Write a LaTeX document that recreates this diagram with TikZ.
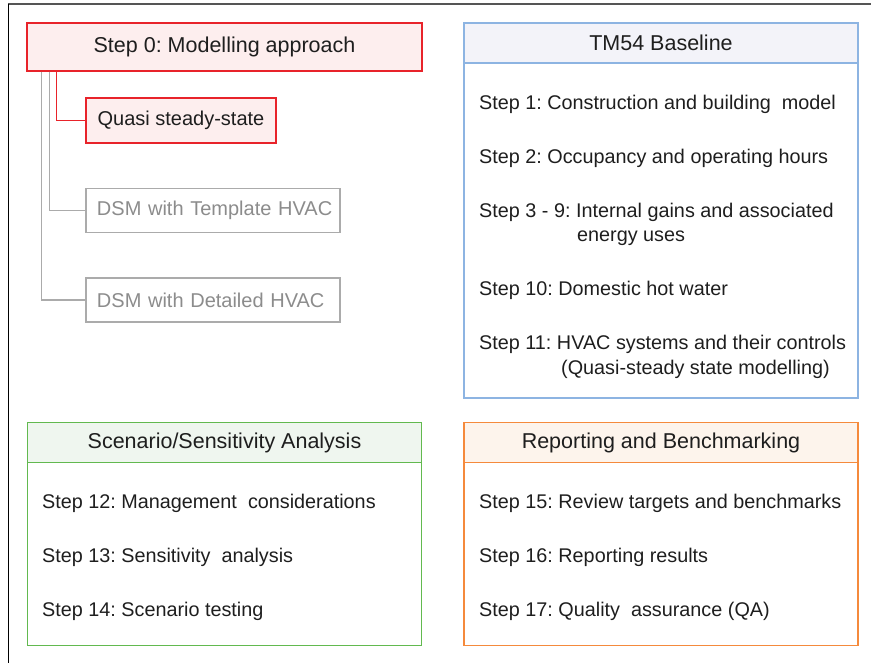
\documentclass[tikz,border=0pt]{standalone}
\usepackage{fontspec}
\setmainfont{Liberation Sans}
\definecolor{stepred}{HTML}{E8232A}
\definecolor{pinkfill}{HTML}{FDEEEE}
\definecolor{greyline}{HTML}{ABABAB}
\definecolor{greytext}{HTML}{8C8C8C}
\definecolor{blueline}{HTML}{8DB4E2}
\definecolor{bluefill}{HTML}{F3F3F9}
\definecolor{greenline}{HTML}{62B94F}
\definecolor{greenfill}{HTML}{EFF6EF}
\definecolor{orangeline}{HTML}{F58A3C}
\definecolor{orangefill}{HTML}{FDF4EC}
\definecolor{framegrey}{HTML}{555555}
\definecolor{inktext}{HTML}{1E1E1E}
\frenchspacing

\begin{document}
\begin{tikzpicture}[x=1pt,y=-1pt,
  every node/.style={font=\fontsize{19.8}{24}\selectfont, inner sep=0pt, text=inktext},
  bigtext/.style={font=\fontsize{21.5}{26}\selectfont},
  boxtext/.style={font=\fontsize{20}{24}\selectfont},
  redbox/.style={draw=stepred, fill=pinkfill, line width=1.5pt},
  greybox/.style={draw=greyline, fill=white, line width=1.2pt, text=greytext,
                  text width=243pt, align=left, inner xsep=5.5pt,
                  execute at begin node={\hspace*{5.5pt}},
                  minimum height=44pt, boxtext},
  panel/.style={draw=#1line, line width=1.5pt, minimum width=394pt},
  panelhead/.style={draw=#1line, fill=#1fill, line width=1.5pt,
                    minimum width=394pt, minimum height=40pt, bigtext},
  item/.style={anchor=base west},
  redlink/.style={draw=stepred, line width=1.5pt},
  greylink/.style={draw=greyline, line width=1.2pt}
]
\useasboundingbox (0,0) rectangle (871,663);

% frame edges
\draw[framegrey, line width=2pt] (8,4) -- (871,4);
\draw[black, line width=1pt] (8,4) -- (8,663);

% ---- modelling approach tree ----
\node[redbox, bigtext, minimum width=395pt, minimum height=48pt] (s0) at (224.5,47) {Step 0: Modelling approach};
\node[redbox, boxtext, minimum width=190pt, minimum height=45pt] (qss) at (181,120.5) {Quasi steady-state};
\node[greybox] (tmpl) at (213,210.5) {DSM with Template HVAC};
\node[greybox] (det) at (213,300) {DSM with Detailed HVAC};

\draw[redlink] ([xshift=30pt]s0.south west) |- (qss.west);
\draw[greylink] ([xshift=23pt]s0.south west) |- (tmpl.west);
\draw[greylink] ([xshift=15pt]s0.south west) |- (det.west);

% ---- TM54 baseline ----
\node[panel=blue, minimum height=375pt] (tm) at (661,210.5) {};
\node[panelhead=blue, anchor=north] (tmh) at (tm.north) {TM54 Baseline};
\node[item] (t1) at (479,110) {Step 1: Construction and building\ \ model};
\node[item] (t2) at (479,164) {Step 2: Occupancy and operating hours};
\node[item] (t3) at (479,218) {Step 3 - 9: Internal gains and associated};
\node[item] (t3b) at (577,242) {energy uses};
\node[item] (t10) at (479,296) {Step 10: Domestic hot water};
\node[item] (t11) at (479,350) {Step 11: HVAC systems and their controls};
\node[item] (t11b) at (561,374) {(Quasi-steady state modelling)};

% ---- scenario / sensitivity ----
\node[panel=green, minimum height=223pt] (sc) at (224.5,534) {};
\node[panelhead=green, anchor=north] (sch) at (sc.north) {Scenario/Sensitivity Analysis};
\node[item] (t12) at (42,508) {Step 12: Management\ \ considerations};
\node[item] (t13) at (42,562) {Step 13: Sensitivity\ \ analysis};
\node[item] (t14) at (42,616) {Step 14: Scenario testing};

% ---- reporting / benchmarking ----
\node[panel=orange, minimum height=223pt] (rp) at (661,534) {};
\node[panelhead=orange, anchor=north] (rph) at (rp.north) {Reporting and Benchmarking};
\node[item] (t15) at (479,508) {Step 15: Review targets and benchmarks};
\node[item] (t16) at (479,562) {Step 16: Reporting results};
\node[item] (t17) at (479,616) {Step 17: Quality\ \ assurance (QA)};
\end{tikzpicture}
\end{document}
